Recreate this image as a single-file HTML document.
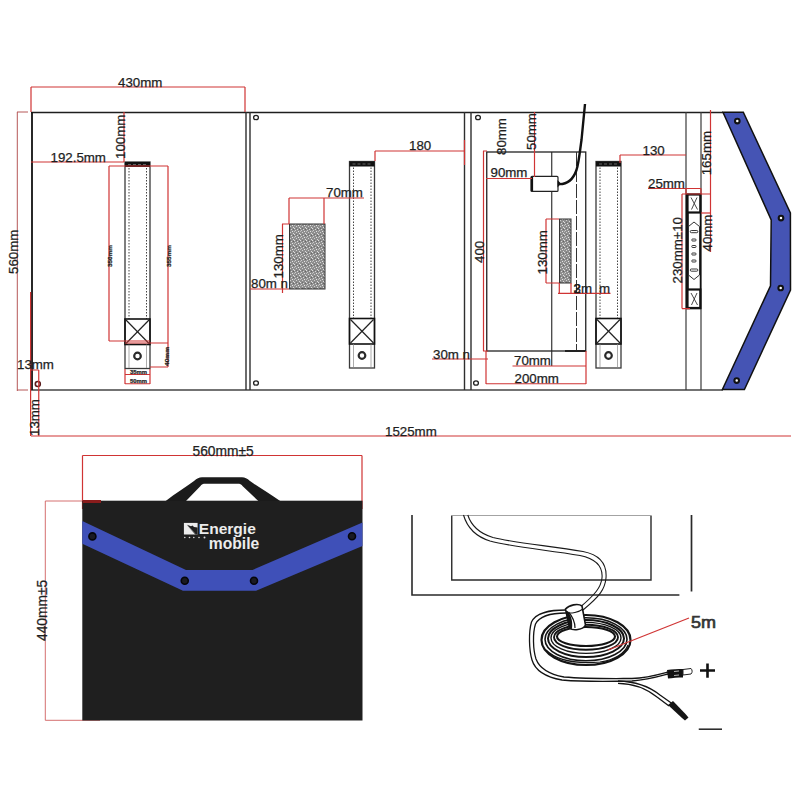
<!DOCTYPE html>
<html><head><meta charset="utf-8">
<style>
html,body{margin:0;padding:0;background:#fff;width:800px;height:800px;overflow:hidden}
svg{display:block}
text{font-family:"Liberation Sans",sans-serif;fill:#1e1e1e;stroke:#1e1e1e;stroke-width:0.25}
</style></head><body>
<svg width="800" height="800" viewBox="0 0 800 800">
<defs>
<pattern id="tex" width="6" height="6" patternUnits="userSpaceOnUse">
<rect width="6" height="6" fill="#8e8e8e"/>
<rect x="0" y="0" width="1" height="1" fill="#e0e0e0"/>
<rect x="3" y="1" width="1" height="1" fill="#d8d8d8"/>
<rect x="1" y="2" width="1" height="1" fill="#cfcfcf"/>
<rect x="4" y="3" width="1" height="1" fill="#e4e4e4"/>
<rect x="2" y="4" width="1" height="1" fill="#d0d0d0"/>
<rect x="5" y="5" width="1" height="1" fill="#dcdcdc"/>
<rect x="0" y="3" width="1" height="1" fill="#bbb"/>
<rect x="5" y="1" width="1" height="1" fill="#666"/>
<rect x="2" y="0" width="1" height="1" fill="#707070"/>
</pattern>
<g id="strip">
<rect x="0" y="0" width="25" height="206.5" fill="#fff" stroke="#3a3a3a" stroke-width="1.3"/>
<line x1="4" y1="6" x2="4" y2="157" stroke="#444" stroke-width="1" stroke-dasharray="1.5,1.5"/>
<line x1="21.5" y1="6" x2="21.5" y2="157" stroke="#444" stroke-width="1" stroke-dasharray="1.5,1.5"/>
<rect x="0" y="0" width="25" height="5" fill="#111"/>
<line x1="3" y1="2.5" x2="22" y2="2.5" stroke="#777" stroke-width="0.8" stroke-dasharray="3,2"/>
<rect x="0" y="157" width="25" height="25.5" fill="none" stroke="#111" stroke-width="1.6"/>
<line x1="1" y1="158" x2="24" y2="181.5" stroke="#222" stroke-width="1.2"/>
<line x1="24" y1="158" x2="1" y2="181.5" stroke="#222" stroke-width="1.2"/>
<line x1="4" y1="182.5" x2="4" y2="206" stroke="#888" stroke-width="0.7"/>
<line x1="21.5" y1="182.5" x2="21.5" y2="206" stroke="#888" stroke-width="0.7"/>
<circle cx="12.5" cy="194" r="3.3" fill="#fff" stroke="#2a2a2a" stroke-width="2.2"/>
</g>
</defs>

<!-- ===== TOP DRAWING ===== -->
<g fill="none" stroke="#2e2e2e">
<line x1="31" y1="112.4" x2="723" y2="112.4" stroke-width="1.5" stroke="#1e1e1e"/>
<line x1="31" y1="390" x2="723" y2="390" stroke-width="1.5" stroke="#444"/>
<line x1="32" y1="112" x2="32" y2="390" stroke-width="1.8" stroke="#111"/>
<line x1="246" y1="112" x2="246" y2="390" stroke-width="1.4"/>
<line x1="250" y1="112" x2="250" y2="390" stroke-width="1.4"/>
<line x1="464.5" y1="112" x2="464.5" y2="390" stroke-width="1.4"/>
<line x1="471" y1="112" x2="471" y2="390" stroke-width="1.4"/>
<line x1="686" y1="112" x2="686" y2="390" stroke-width="1.2" stroke="#3a3a3a"/>
<line x1="701" y1="112" x2="701" y2="390" stroke-width="1.2" stroke="#3a3a3a"/>
</g>
<g fill="none" stroke="#222" stroke-width="1.3">
<ellipse cx="256" cy="117.5" rx="2.4" ry="2.2"/>
<ellipse cx="256" cy="383" rx="2.4" ry="2.2"/>
<ellipse cx="478" cy="117.5" rx="2.4" ry="2.2"/>
<ellipse cx="476" cy="383" rx="2.4" ry="2.2"/>
</g>
<circle cx="37.8" cy="384" r="2.5" fill="none" stroke="#5a1c1c" stroke-width="1.6"/>

<use href="#strip" x="125" y="162"/>
<use href="#strip" x="349.5" y="161.5"/>
<use href="#strip" x="596" y="161.5"/>

<!-- textured rects -->
<rect x="289.5" y="224" width="35.5" height="65" fill="url(#tex)" stroke="#333" stroke-width="1"/>
<rect x="559.5" y="219" width="11.5" height="64" fill="url(#tex)" stroke="#333" stroke-width="1"/>

<!-- junction box -->
<g fill="none" stroke="#222">
<rect x="486.75" y="152" width="99" height="199" stroke-width="1.3"/>
<line x1="551.75" y1="152" x2="551.75" y2="366" stroke-width="1.1"/>
<line x1="576.5" y1="152" x2="576.5" y2="351" stroke-width="1" stroke="#333" stroke-dasharray="14,2"/>
<line x1="565" y1="351" x2="586" y2="351" stroke-width="2"/>
</g>
<path d="M557 184 C566 185 573 180 576.5 170 C579 162 580 150 581.5 140 L585 104" fill="none" stroke="#111" stroke-width="2.4"/>
<rect x="531" y="176.4" width="27" height="15" rx="1" fill="#fff" stroke="#222" stroke-width="1.2"/>
<line x1="532" y1="177" x2="532" y2="191" stroke="#111" stroke-width="2.2"/>
<path d="M557.5 180 L561 183.5 L557.5 187.5 Z" fill="#111"/>

<!-- switch -->
<rect x="687" y="194.5" width="13.5" height="114" fill="#fff" stroke="#111" stroke-width="1.5"/>
<rect x="685.8" y="194" width="3" height="115" fill="#111"/>
<rect x="687.5" y="194.5" width="12.8" height="18" fill="#fff" stroke="#111" stroke-width="2.2"/>
<rect x="687.5" y="289.5" width="12.8" height="18.5" fill="#fff" stroke="#111" stroke-width="2.2"/>
<g stroke="#333" stroke-width="0.9" fill="none">
<path d="M691 197.5 L697.5 209.5 M697 197.5 L691.5 209.5"/>
<path d="M691 293 L697.5 305 M697 293 L691.5 305"/>
<path d="M688.5 226.5 L694 222 L699.5 226.5 V275 L694 279.5 L688.5 275 Z" stroke-width="1"/>
</g>
<g fill="none" stroke="#222" stroke-width="0.9">
<rect x="690.3" y="230.5" width="7.5" height="2.2" rx="1"/>
<rect x="691.8" y="239" width="4.2" height="2" rx="0.8"/>
<rect x="691.8" y="245.5" width="4.2" height="2" rx="0.8"/>
<rect x="691.8" y="253" width="4.2" height="2" rx="0.8"/>
<rect x="691.8" y="260" width="4.2" height="2" rx="0.8"/>
<rect x="690.3" y="269" width="7.5" height="2.2" rx="1"/>
</g>

<!-- blue band -->
<polygon points="723,112.2 743.3,112.2 790.4,212.9 790.5,290 744.4,389.5 722.4,389.5 770.5,285.8 771.2,220" fill="#4554b4" stroke="#111" stroke-width="1.5"/>
<g fill="#fff" stroke="#111" stroke-width="2.1">
<circle cx="737.3" cy="121.1" r="2.3"/>
<circle cx="781" cy="218.1" r="2.3"/>
<circle cx="780.7" cy="288" r="2.3"/>
<circle cx="736.7" cy="380.6" r="2.3"/>
</g>

<!-- red dimension lines -->
<g fill="none" stroke="#d03434" stroke-width="1.2">
<path d="M31 87 H245 M31 87 V112 M245 87 V112"/>
</g>
<path d="M17.3 112 V391 M17 112 H28 M17 390 H28" fill="none" stroke="#b65858" stroke-width="1"/>
<g fill="none" stroke="#d03434" stroke-width="1.2">
<path d="M31 162 H124 M124 112 V162"/>
<path d="M109 166 H168 M109 166 V341 M109 341 H150 M168 166 V367 M125 343 H168 M150 367 H168"/>
<path d="M125 374.5 H150 M125 383.75 H150 M125 369 V384 M150 369 V384"/>
<path d="M31 370 H38.75 M38.75 370 V436 M30.6 292 V436"/>
<path d="M31 436 H791"/>
<path d="M289 198 H364 M289 198 V224 M324 198 V224"/>
<path d="M282.5 224 V289 M282 224 H289 M250 289 H289 M282.5 284 V293"/>
<path d="M375 151 H464.5 M375 151 V161 M464.5 140 V165"/>
<path d="M483.5 151 V351 M483 151 H487 M483 351 H488"/>
<path d="M534.5 112 V177"/>
<path d="M486 178.5 H532"/>
<path d="M432 359 H488"/>
<path d="M512.5 366 H586 M586 351 V384"/>
<path d="M486 383.75 H586 M486 351 V384"/>
<path d="M546 219 V283 M546 219 H559 M546 283 H559"/>
<path d="M558 293.3 H610.5 M559.3 283 V293.3 M571 283 V293.3"/>
<path d="M620 155 H686 M620 155 V163"/>
<path d="M710.5 110 V252"/>
<path d="M648 188.5 H701 M686 188.5 V194 M701 188.5 V194"/>
<path d="M682 194 H711 M682 194 V308.6 M682 308.6 H690"/>
<path d="M701 213 H711"/>
</g>

<!-- top texts -->
<g font-size="13.3">
<text x="118" y="87">430mm</text>
<text x="50.5" y="162">192.5mm</text>
<text x="17" y="369">13mm</text>
<text x="385" y="436">1525mm</text>
<text x="326" y="197">70mm</text>
<text x="409" y="150">180</text>
<text x="251" y="288">80m n</text>
<text x="490.5" y="177">90mm</text>
<text x="470" y="358.5" text-anchor="end">30m n</text>
<text x="514" y="365">70mm</text>
<text x="514.5" y="383">200mm</text>
<text x="573.5" y="292.5">2m</text>
<text x="573.5" y="292.5">3</text>
<text x="599" y="292.5">m</text>
<text x="642.5" y="154.5">130</text>
<text x="648" y="188">25mm</text>
</g>
<g font-size="13.3">
<text transform="translate(17.5,274) rotate(-90)">560mm</text>
<text transform="translate(125.2,159) rotate(-90)">100mm</text>
<text transform="translate(283.2,278.5) rotate(-90)">130mm</text>
<text transform="translate(484,263) rotate(-90)">400</text>
<text transform="translate(505.5,155) rotate(-90)">80mm</text>
<text transform="translate(536,150) rotate(-90)">50mm</text>
<text transform="translate(547.3,274.5) rotate(-90)">130mm</text>
<text transform="translate(711,175.3) rotate(-90)">165mm</text>
<text transform="translate(682,283.5) rotate(-90)">230mm±10</text>
<text transform="translate(712,251.5) rotate(-90)">40mm</text>
<text transform="translate(39.2,436) rotate(-90)">13mm</text>
</g>
<g font-size="6" font-weight="bold" style="stroke:none">
<text transform="translate(111.5,267) rotate(-90)" textLength="22" lengthAdjust="spacingAndGlyphs">350mm</text>
<text transform="translate(170.5,267) rotate(-90)" textLength="22" lengthAdjust="spacingAndGlyphs">355mm</text>
<text transform="translate(169,366) rotate(-90)" textLength="19" lengthAdjust="spacingAndGlyphs">40mm</text>
<text x="130" y="374" textLength="17" lengthAdjust="spacingAndGlyphs">35mm</text>
<text x="130" y="382.5" textLength="17" lengthAdjust="spacingAndGlyphs">50mm</text>
</g>

<!-- ===== BAG ===== -->
<g fill="none" stroke="#d03434" stroke-width="1.2">
<path d="M82.5 455.5 H362 M82.5 455.5 V509 M362 455.5 V509"/>
</g>
<path d="M45.3 501 H82 M45.3 501 V720.3 M45.3 720.3 H100" fill="none" stroke="#d06060" stroke-width="0.9"/>
<text x="192.5" y="456" font-size="13.8">560mm±5</text>
<text transform="translate(46.5,641) rotate(-90)" font-size="13.8">440mm±5</text>
<path d="M165.7 501 C176 493 186 487 194 481 C197 478.5 199 477.3 202 477.3 L242 477.3 C245 477.3 247 478.5 250 481 C258 487 270 494 280.2 501 L258.3 501 L242.5 486 C241.5 484.8 240.5 483.8 239 483.8 L204 483.8 C202.5 483.8 201.5 484.8 200.5 486 L186 501 Z" fill="#1b1b1b"/>
<rect x="82.3" y="500.7" width="280.2" height="219.8" fill="#1f1f1f"/>
<rect x="83" y="500" width="18" height="3" fill="#8a1c1c"/>
<polygon points="82.3,521 186,570 252.5,570 362.5,522.5 362.5,546 256,590.7 183,590.7 82.3,543.8" fill="#3f50b8"/>
<g fill="#1a1a22" stroke="#05050a" stroke-width="1.6">
<circle cx="92.4" cy="536.4" r="3.5"/>
<circle cx="184.75" cy="580.8" r="3.5"/>
<circle cx="254" cy="580.8" r="3.5"/>
<circle cx="352" cy="536.3" r="3.5"/>
</g>
<!-- logo -->
<g>
<path d="M183.9 522.9 H197.6 V534.5 H183.9 Z" fill="#ececec"/>
<path d="M187 524.8 L191 526.3 L192.5 525.5 L194 527 L197.6 527.5 V534.5 L195.3 534.5 Z" fill="#1f1f1f"/>
<path d="M188 526 L195 533.5" stroke="#777" stroke-width="0.8"/>
</g>
<g fill="#d8d8d8"><circle cx="184.8" cy="537.5" r="0.8"/><circle cx="189.5" cy="537.5" r="0.8"/><circle cx="193.8" cy="537.5" r="0.8"/><circle cx="199" cy="537.5" r="0.8"/><circle cx="204.5" cy="537.5" r="1"/></g>
<text x="198.8" y="534.2" font-size="15" font-weight="bold" style="fill:#ececec;stroke:none" textLength="57" lengthAdjust="spacingAndGlyphs">Energie</text>
<text x="208.75" y="548.8" font-size="16.5" font-weight="bold" style="fill:#ececec;stroke:none" textLength="50.5" lengthAdjust="spacingAndGlyphs">mobile</text>

<!-- ===== CABLE ===== -->
<g fill="none" stroke="#2a2a2a">
<path d="M412 515 V595 H679.4" stroke-width="1.6"/>
<path d="M451.75 515.5 V580 H651 V515.5" stroke-width="1.4"/>
<path d="M451.75 515.5 H651" stroke-width="0.9" stroke="#999"/>
<path d="M691.5 515 V591.5" stroke-width="1.7"/>
</g>
<g fill="none" stroke="#1a1a1a" stroke-width="1.1">
<path d="M463.5 515 C467 527 474 536 490 541 C512 547 548 550 580 555.5 C597 559 603 567 602 578 C601 587 596 594 578 609"/>
<path d="M467.8 515 C471 525 478 533 493 537.5 C515 543 551 546 583 551.5 C601 555 607 565 606 578 C605 589 600 596 583 610"/>
</g>
<!-- coil -->
<g fill="none" stroke="#141414">
<ellipse cx="586" cy="640" rx="44.5" ry="25" stroke-width="2.2"/>
<ellipse cx="586" cy="639.3" rx="41" ry="21.5" stroke-width="1.6"/>
<ellipse cx="586" cy="638.6" rx="38" ry="18.5" stroke-width="2"/>
<ellipse cx="586" cy="637.9" rx="35" ry="15.5" stroke-width="1.4"/>
<ellipse cx="586" cy="637.2" rx="32" ry="12.5" stroke-width="1.9"/>
<ellipse cx="586" cy="636.5" rx="29" ry="9.5" stroke-width="2.1"/>
</g>
<path d="M546 650 C556 660 575 664 600 662 C615 660 625 653 628 645" fill="none" stroke="#141414" stroke-width="1.2"/>
<path d="M565.5 609 C569 605 578 603 582 606 L585.5 625 C583 630 573 631 569.5 628 Z" fill="#fff" stroke="#141414" stroke-width="1.6"/>
<path d="M566 612.5 C571 614 579 612 583 609" fill="none" stroke="#141414" stroke-width="1.1"/>
<path d="M567.5 611 C571 615 573 621 572 629 L569.5 628 C568 622 567 616 566 611 Z" fill="#141414"/>
<path d="M568.5 612 C572 616 575 622 575 628" fill="none" stroke="#141414" stroke-width="1.2"/>
<g fill="none" stroke="#141414" stroke-width="1.3">
<path d="M566 610 C550 610 536 612 531.5 622 C528.5 632 529 650 532 660 C535 670 545 677 562 680 C585 682 615 681.5 632 681 C647 680 657 677 668 674"/>
<path d="M566 613 C552 613 540 615 535.5 624 C532.5 633 533 650 536 659 C539 667 548 674 564 677 C587 679 615 678.5 632 678.5 C647 678 657 675 668 672"/>
<path d="M618 681 C636 681.5 650 687 660 695 L672 703.5"/>
<path d="M618 683.3 C634 683.5 647 689 657 697 L669 706"/>
</g>
<path d="M667 670 C672 669 678 669 683 669 L683 677.5 C678 677.5 672 678 668 678.5 Z" fill="#111"/>
<path d="M674 671.5 L679 671 M674 675.5 L679 675" stroke="#ddd" stroke-width="0.8"/>
<path d="M683 669.5 L691 668.5 C692.5 670 692.5 672.5 691 674 L683 675 Z" fill="#fff" stroke="#222" stroke-width="1"/>
<path d="M668 705 L673 701 L685.5 714 L688.5 717.5 L685 720.5 L682 718 Z" fill="#151515"/>
<path d="M608 650 L689 618" stroke="#d03434" stroke-width="1.2"/>
<text x="691" y="627.5" font-size="17" style="fill:#353535;stroke:#353535;stroke-width:0.7" textLength="25" lengthAdjust="spacingAndGlyphs">5m</text>
<path d="M700 670.5 H715 M707.5 663.5 V677.75" stroke="#111" stroke-width="2.6"/>
<path d="M698.75 729.2 H722" stroke="#222" stroke-width="1.5"/>
</svg>
</body></html>
